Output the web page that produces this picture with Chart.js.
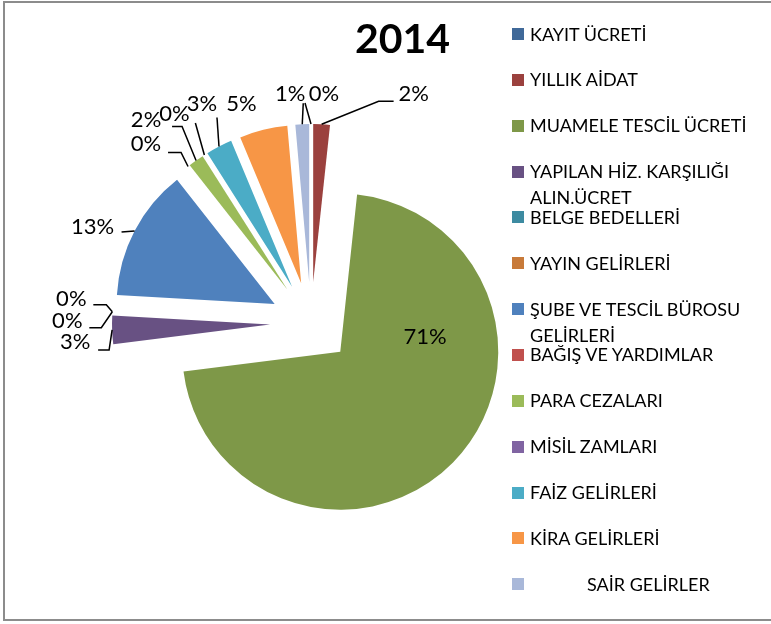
<!DOCTYPE html>
<html>
<head>
<meta charset="utf-8">
<script src="https://cdn.jsdelivr.net/npm/chart.js@4/dist/chart.umd.min.js"></script>
<style>
  html, body { margin: 0; padding: 0; background: #fff; }
  #wrap { position: relative; width: 771px; height: 624px; overflow: hidden; font-family: Lato, "Open Sans", sans-serif; }
  #frame { position: absolute; left: 3px; top: 1px; width: 820px; height: 620px; border: 2px solid #8c8c8c; box-sizing: border-box; }
  #chart { position: absolute; left: 0; top: 0; }
  #title { position: absolute; left: 300px; width: 205px; top: 17px; text-align: center; font: bold 41px Lato, sans-serif; line-height: 41px; color: #000; }
  .item { position: absolute; left: 512px; width: 255px; height: 20px; }
  .box { position: absolute; left: 0; width: 12px; height: 12px; }
  .txt { position: absolute; left: 18px; white-space: pre; font: 18px Lato, sans-serif; line-height: 18px; color: #000; }
</style>
</head>
<body>
<div id="wrap">
  <div id="frame"></div>
  <canvas id="chart" width="771" height="624"></canvas>
  <div id="title"></div>
  <div id="legend"></div>
</div>
<script>
// ---- data ----
const chartTitle = '2014';
const categories = [
  'KAYIT ÜCRETİ',
  'YILLIK AİDAT',
  'MUAMELE TESCİL ÜCRETİ',
  ['YAPILAN HİZ. KARŞILIĞI', 'ALIN.ÜCRET'],
  'BELGE BEDELLERİ',
  'YAYIN GELİRLERİ',
  ['ŞUBE VE TESCİL BÜROSU', 'GELİRLERİ'],
  'BAĞIŞ VE YARDIMLAR',
  'PARA CEZALARI',
  'MİSİL ZAMLARI',
  'FAİZ GELİRLERİ',
  'KİRA GELİRLERİ',
  'SAİR GELİRLER'
];
const shares = [0, 1.7, 71.3, 2.9, 0, 0, 13.5, 0, 1.6, 0, 2.7, 4.9, 1.4];

// ---- styles ----
const sliceColors = [
  '#406999', '#9b413e', '#7e9848', '#685183', '#3d8ba1', '#c87a39',
  '#4f81bd', '#c0504d', '#9bbb59', '#8064a2', '#4bacc6', '#f79646', '#a9b8d9'
];
// label placement relative to each slice's outer mid point: [dx, dy, leader [sx, sy, elbow] | null]
const labelPlacement = [
  [13, -31, [-19, 10, 0]],
  [92, -31, [-20, 8, -15]],
  [-28, -126, null],
  [-37, 11, [23, 9, 11]],
  [-41, -14, [22, 7, 13]],
  [-45, 8, [22, 8, 12]],
  [-42, -5, [29, 6, 0]],
  [-42, -23, [22, 9, 13]],
  [-50, -41, [26, 7, 10]],
  [-30, -42, [21, 10, 0]],
  [-17, -43, [15, 14, 0]],
  [-22, -27, null],
  [-12, -31, [13, 10, 0]]
];
const legendIndent = [0,0,0,0,0,0,0,0,0,0,0,0,57];
const EXPLODE = 41;

document.getElementById('title').textContent = chartTitle;

// HTML legend
const legend = document.getElementById('legend');
categories.forEach((c, i) => {
  const yc = 34 + i * 45.85;
  const item = document.createElement('div');
  item.className = 'item';
  item.style.top = (yc - 9) + 'px';
  const box = document.createElement('div');
  box.className = 'box';
  box.style.top = '3px';
  box.style.background = sliceColors[i];
  item.appendChild(box);
  const lines = Array.isArray(c) ? c : [c];
  lines.forEach((ln, k) => {
    const t = document.createElement('div');
    t.className = 'txt';
    t.style.top = (k * 26 - 0.5) + 'px';
    t.style.left = (18 + legendIndent[i]) + 'px';
    t.textContent = ln;
    item.appendChild(t);
  });
  legend.appendChild(item);
});

const explodePlugin = {
  id: 'explode',
  beforeDatasetDraw(chart, args) {
    const ctx = chart.ctx;
    args.meta.data.forEach(arc => {
      const mid = (arc.startAngle + arc.endAngle) / 2;
      ctx.save();
      ctx.translate(Math.cos(mid) * EXPLODE, Math.sin(mid) * EXPLODE);
      arc.draw(ctx, chart.chartArea);
      ctx.restore();
    });
    return false;
  }
};

const pctLabelPlugin = {
  id: 'pctLabels',
  afterDatasetsDraw(chart) {
    const ctx = chart.ctx;
    const meta = chart.getDatasetMeta(0);
    const vals = chart.data.datasets[0].data;
    const total = vals.reduce((a, b) => a + b, 0);
    ctx.save();
    ctx.font = '22px Lato, sans-serif';
    ctx.fillStyle = '#000';
    ctx.strokeStyle = '#000';
    ctx.lineWidth = 1.5;
    ctx.textAlign = 'center';
    ctx.textBaseline = 'alphabetic';
    meta.data.forEach((arc, i) => {
      const mid = (arc.startAngle + arc.endAngle) / 2;
      const r = arc.outerRadius + EXPLODE;
      const ax = arc.x + Math.cos(mid) * r;
      const ay = arc.y + Math.sin(mid) * r;
      const pl = labelPlacement[i];
      const lx = ax + pl[0], ly = ay + pl[1];
      const txt = Math.round(vals[i] / total * 100) + '%';
      ctx.fillText(txt, lx, ly + 7.9);
      if (pl[2]) {
        const sx = lx + pl[2][0], sy = ly + pl[2][1];
        ctx.beginPath();
        ctx.moveTo(sx, sy);
        if (pl[2][2]) ctx.lineTo(sx + pl[2][2], sy);
        ctx.lineTo(ax, ay);
        ctx.stroke();
      }
    });
    ctx.restore();
  }
};

function make() {
  new Chart(document.getElementById('chart'), {
    type: 'pie',
    data: {
      labels: categories,
      datasets: [{
        data: shares,
        backgroundColor: sliceColors,
        borderWidth: 0
      }]
    },
    options: {
      responsive: false,
      animation: false,
      devicePixelRatio: 1,
      radius: 158,
      layout: { padding: { left: 0, right: 149, top: 22, bottom: 0 } },
      plugins: {
        legend: { display: false },
        title: { display: false },
        tooltip: { enabled: false }
      }
    },
    plugins: [explodePlugin, pctLabelPlugin]
  });
}
if (document.fonts && document.fonts.load) {
  document.fonts.load('22px Lato').then(make, make);
} else {
  make();
}
</script>
</body>
</html>
